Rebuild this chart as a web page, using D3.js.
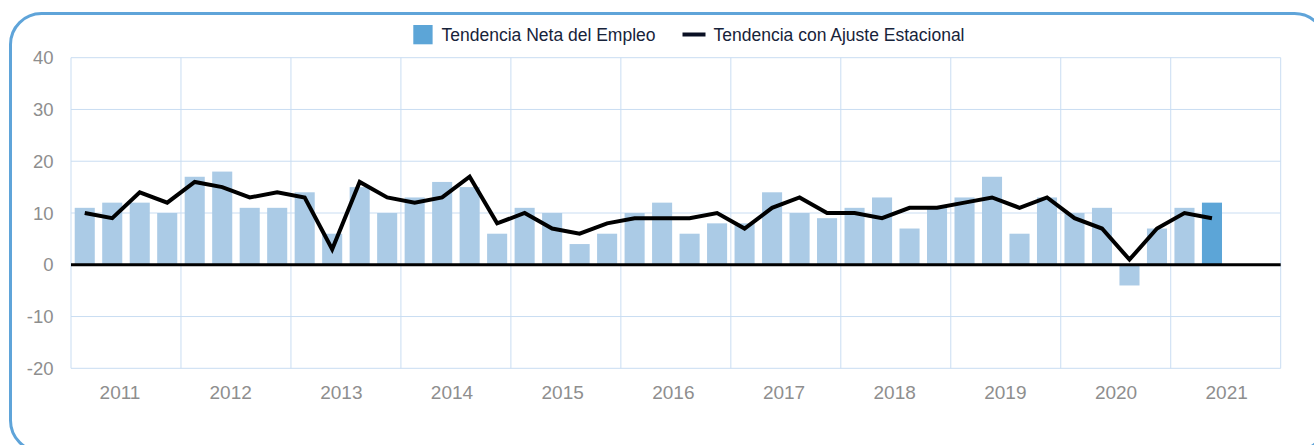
<!DOCTYPE html>
<html>
<head>
<meta charset="utf-8">
<script src="https://cdn.jsdelivr.net/npm/d3@7"></script>
<style>
  html, body { margin: 0; padding: 0; background: #ffffff; }
  svg { display: block; }
</style>
</head>
<body>
<svg id="chart" width="1314" height="445"></svg>
<script>
// ---- data ----
const years = ["2011","2012","2013","2014","2015","2016","2017","2018","2019","2020","2021"];
const quarterNames = ["T1","T2","T3","T4"];
const netValues = [11,12,12,10, 17,18,11,11, 14,6,15,10, 13,16,15,6, 11,10,4,6,
                   10,12,6,8, 8,14,10,9, 11,13,7,11, 13,17,6,13, 10,11,-4,7, 11,12];
const seasonalValues = [10,9,14,12, 16,15,13,14, 13,3,16,13, 12,13,17,8, 10,7,6,8,
                        9,9,9,10, 7,11,13,10, 10,9,11,11, 12,13,11,13, 9,7,1,7, 10,9];
const yTicks = [-20,-10,0,10,20,30,40];
const seriesNames = ["Tendencia Neta del Empleo", "Tendencia con Ajuste Estacional"];

// ---- layout ----
const svg = d3.select("#chart");
const X0 = 71, X1 = 1280.7, Y0 = 57.7, Y1 = 368.3;
const slots = years.flatMap(y => quarterNames.map(q => y + " " + q));
const categories = slots.slice(0, netValues.length);

const x = d3.scaleBand().domain(slots).range([X0, X1]).paddingInner(0.27).paddingOuter(0.135);
const xYear = d3.scaleBand().domain(years).range([X0, X1]).padding(0);
const xLabel = d3.scalePoint().domain(years).range([X0 + 49, X1 - 54]);
const y = d3.scaleLinear().domain([-20, 40]).range([Y1, Y0]);

const gridColor = "#c9ddf2";

// card border
svg.append("rect")
  .attr("x", 10.5).attr("y", 13.5)
  .attr("width", 1315).attr("height", 438)
  .attr("rx", 31).attr("ry", 31)
  .attr("fill", "none").attr("stroke", "#5fa4d9").attr("stroke-width", 3);

// horizontal gridlines
svg.append("g").selectAll("line").data(yTicks).join("line")
  .attr("x1", X0).attr("x2", X1)
  .attr("y1", d => y(d)).attr("y2", d => y(d))
  .attr("stroke", gridColor).attr("stroke-width", 1);

// vertical gridlines (year boundaries)
const vLines = years.map(yr => xYear(yr)).concat([X1]);
svg.append("g").selectAll("line").data(vLines).join("line")
  .attr("x1", d => d).attr("x2", d => d)
  .attr("y1", Y0).attr("y2", Y1)
  .attr("stroke", gridColor).attr("stroke-width", 1);

// y tick labels
svg.append("g").selectAll("text").data(yTicks).join("text")
  .attr("x", 53.5).attr("y", d => y(d))
  .attr("dy", "0.36em")
  .attr("text-anchor", "end")
  .attr("font-family", "Liberation Sans, Arial, sans-serif")
  .attr("font-size", 18.5)
  .attr("fill", "#8e8e8e")
  .text(d => d);

// year labels
svg.append("g").selectAll("text").data(years).join("text")
  .attr("x", d => xLabel(d)).attr("y", 399)
  .attr("text-anchor", "middle")
  .attr("font-family", "Liberation Sans, Arial, sans-serif")
  .attr("font-size", 19)
  .attr("fill", "#8e8e8e")
  .text(d => d);

// bars
const lastIdx = netValues.length - 1;
svg.append("g").selectAll("rect").data(netValues).join("rect")
  .attr("x", (d, i) => x(categories[i]))
  .attr("width", x.bandwidth())
  .attr("y", d => y(Math.max(0, d)))
  .attr("height", d => Math.abs(y(d) - y(0)))
  .attr("fill", (d, i) => i === lastIdx ? "#5ca5d7" : "#abcbe6");

// zero line
svg.append("line")
  .attr("x1", X0).attr("x2", X1)
  .attr("y1", y(0)).attr("y2", y(0))
  .attr("stroke", "#000").attr("stroke-width", 3);

// seasonal line
const line = d3.line()
  .x((d, i) => x(categories[i]) + x.bandwidth() / 2)
  .y(d => y(d));
svg.append("path")
  .datum(seasonalValues)
  .attr("d", line)
  .attr("fill", "none")
  .attr("stroke", "#000")
  .attr("stroke-width", 4)
  .attr("stroke-linejoin", "miter");

// legend
const lg = svg.append("g");
lg.append("rect").attr("x", 413.3).attr("y", 25).attr("width", 19.3).attr("height", 19.3).attr("fill", "#5ca5d7");
lg.append("text").attr("x", 441.5).attr("y", 40.5)
  .attr("font-family", "Liberation Sans, Arial, sans-serif").attr("font-size", 17.5)
  .attr("fill", "#17233a").text(seriesNames[0]);
lg.append("line").attr("x1", 682.5).attr("x2", 705.5).attr("y1", 34.5).attr("y2", 34.5)
  .attr("stroke", "#0a1024").attr("stroke-width", 4);
lg.append("text").attr("x", 713.5).attr("y", 40.5)
  .attr("font-family", "Liberation Sans, Arial, sans-serif").attr("font-size", 17.5)
  .attr("fill", "#17233a").text(seriesNames[1]);
</script>
</body>
</html>
